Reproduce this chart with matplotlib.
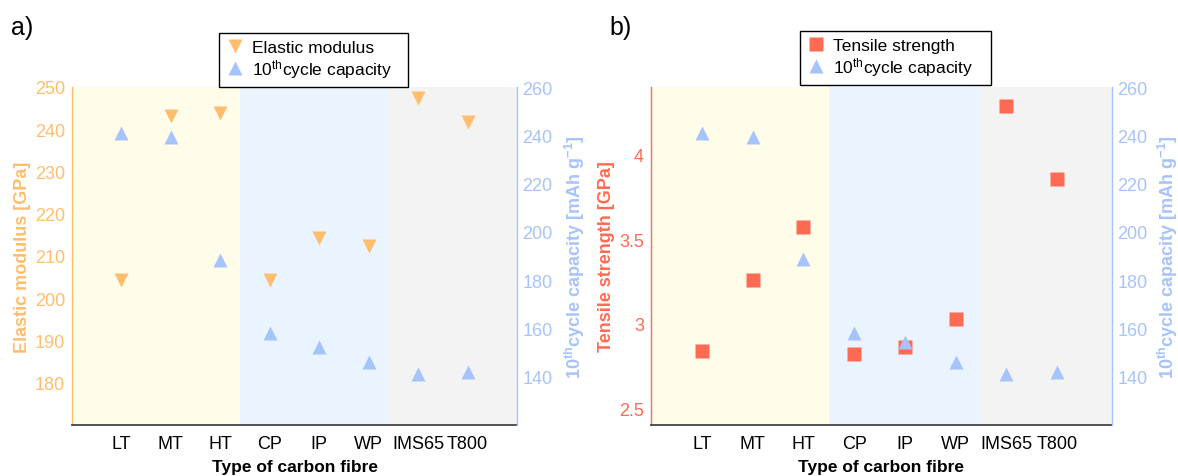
import matplotlib
matplotlib.use("Agg")
import matplotlib.pyplot as plt
from matplotlib.lines import Line2D

plt.rcParams['font.family'] = ['Liberation Sans', 'DejaVu Sans']
plt.rcParams['mathtext.default'] = 'regular'

categories = ["LT", "MT", "HT", "CP", "IP", "WP", "IMS65", "T800"]
elastic_modulus = [204.3, 243.2, 243.9, 204.4, 214.3, 212.3, 247.4, 241.6]
tensile_strength = [2.84, 3.26, 3.57, 2.82, 2.86, 3.03, 4.29, 3.855]
capacity_a = [241, 239.2, 188.2, 158.1, 152.2, 146.3, 141.1, 142]
capacity_b = [241.1, 239.3, 188.6, 158.1, 154.4, 146, 141, 142]

elastic_ticks = [180, 190, 200, 210, 220, 230, 240, 250]
tensile_ticks = [2.5, 3, 3.5, 4]
tensile_ticklabels = ["2.5", "3", "3.5", "4"]
capacity_ticks = [140, 160, 180, 200, 220, 240, 260]

ORANGE = "#FFBE6E"
BLUE = "#A6C4FB"
RED = "#FF6B52"
YELLOW_BG = "#FFFDEA"
BLUE_BG = "#EAF4FE"
GRAY_BG = "#F3F3F3"
AXIS_DARK = "#444444"

cap_label = "10$^{th}$cycle capacity [mAh g$^{-1}$]"
cap_legend = "10$^{th}$cycle capacity"

TICK_FS = 13
LABEL_FS = 13
XLABEL_FS = 12.5
LEGEND_FS = 12.5

fig = plt.figure(figsize=(11.78, 4.77), dpi=100)
W, H = 1178, 477


def make_panel(left_px, right_px, x_right, shade_bounds, left_vals, left_color,
               left_marker, left_ylim, left_ticks, left_ticklabels, left_label,
               cap_vals, legend_label, legend_box, ylabel_left_x, ylabel_right_x):
    top_px, bot_px = 88, 426
    ax = fig.add_axes([left_px / W, 1 - bot_px / H, (right_px - left_px) / W,
                       (bot_px - top_px) / H])
    ax2 = ax.twinx()
    x = list(range(len(categories)))
    ax.set_xlim(-1, x_right)
    a, b = shade_bounds
    ax.axvspan(-1, a, color=YELLOW_BG, lw=0, zorder=0)
    ax.axvspan(a, b, color=BLUE_BG, lw=0, zorder=0)
    ax.axvspan(b, x_right, color=GRAY_BG, lw=0, zorder=0)

    ax.plot(x, left_vals, linestyle='none', marker=left_marker, ms=10,
            color=left_color, mec='none', zorder=3)
    ax2.plot(x, cap_vals, linestyle='none', marker='^', ms=10,
             color=BLUE, mec='none', zorder=3)

    ax.set_ylim(*left_ylim)
    ax.set_yticks(left_ticks)
    ax.set_yticklabels(left_ticklabels)
    ax2.set_ylim(120, 260)
    ax2.set_yticks(capacity_ticks)

    ax.set_xticks(x)
    ax.set_xticklabels(categories, fontsize=TICK_FS, color='black')
    ax.tick_params(axis='x', length=0, pad=7)
    ax.tick_params(axis='y', length=0, pad=5, labelsize=TICK_FS, labelcolor=left_color)
    ax2.tick_params(axis='y', length=0, pad=4, labelsize=TICK_FS, labelcolor=BLUE)

    for s in ['top', 'right']:
        ax.spines[s].set_visible(False)
    for s in ['top', 'left', 'bottom']:
        ax2.spines[s].set_visible(False)
    ax.spines['left'].set_color(left_color)
    ax.spines['left'].set_linewidth(1.0)
    ax.spines['bottom'].set_color(AXIS_DARK)
    ax.spines['bottom'].set_linewidth(1.3)
    ax2.spines['right'].set_color(BLUE)
    ax2.spines['right'].set_linewidth(1.0)

    ax.set_xlabel("Type of carbon fibre", fontsize=XLABEL_FS, fontweight='bold', labelpad=5)
    ax.set_ylabel(left_label, fontsize=LABEL_FS, fontweight='bold', color=left_color)
    ax.yaxis.set_label_coords((ylabel_left_x - left_px) / (right_px - left_px), 0.5)
    ax2.set_ylabel(cap_label, fontsize=LABEL_FS, fontweight='bold', color=BLUE)
    ax2.yaxis.set_label_coords((ylabel_right_x - left_px) / (right_px - left_px), 0.5)

    handles = [Line2D([], [], linestyle='none', marker=left_marker, ms=10,
                      color=left_color, mec='none'),
               Line2D([], [], linestyle='none', marker='^', ms=10,
                      color=BLUE, mec='none')]
    lx0, ly0, lx1, ly1 = legend_box
    leg = fig.legend(handles, [legend_label, cap_legend],
                     loc='lower left',
                     bbox_to_anchor=(lx0 / W, 1 - ly1 / H, (lx1 - lx0) / W, (ly1 - ly0) / H),
                     mode='expand', borderaxespad=0, fontsize=LEGEND_FS, frameon=True,
                     fancybox=False, edgecolor='black', framealpha=1,
                     handlelength=1.0, handletextpad=0.5, labelspacing=0.12,
                     borderpad=0.4)
    leg.get_frame().set_linewidth(1.0)
    return ax, ax2


make_panel(72, 517, 8.0, (2.40, 5.38), elastic_modulus, ORANGE, 'v',
           (170, 250), elastic_ticks, [str(t) for t in elastic_ticks],
           "Elastic modulus [GPa]", capacity_a, "Elastic modulus",
           (219, 33, 408, 88), 31, 563)

make_panel(651, 1112, 8.08, (2.50, 5.47), tensile_strength, RED, 's',
           (2.4, 4.4), tensile_ticks, tensile_ticklabels,
           "Tensile strength [GPa]", capacity_b, "Tensile strength",
           (800, 32, 991, 86), 615, 1156)

fig.text(11 / W, 1 - 35 / H, "a)", fontsize=18, ha='left', va='baseline')
fig.text(609 / W, 1 - 35 / H, "b)", fontsize=18, ha='left', va='baseline')

fig.savefig("out.png", dpi=100)
